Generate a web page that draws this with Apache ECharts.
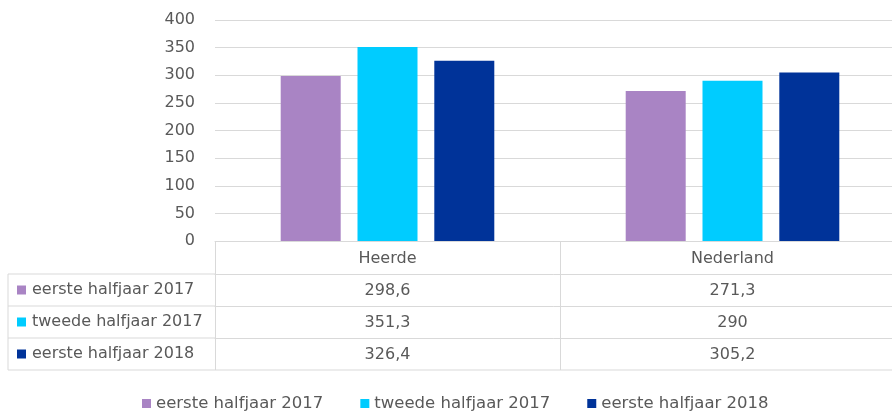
<!DOCTYPE html>
<html>
<head>
<meta charset="utf-8">
<script src="https://cdn.jsdelivr.net/npm/echarts@6/dist/echarts.min.js"></script>
<style>
  html, body { margin: 0; padding: 0; background: #fff; }
  #chart { width: 892px; height: 414px; }
</style>
</head>
<body>
<div id="chart"></div>
<script>
var regions = ['Heerde', 'Nederland'];
var seriesNames = ['eerste halfjaar 2017', 'tweede halfjaar 2017', 'eerste halfjaar 2018'];
var eerste2017 = [298.6, 271.3];
var tweede2017 = [351.3, 290];
var eerste2018 = [326.4, 305.2];
var colors = ['#A984C4', '#00CCFF', '#003399'];

var values = [eerste2017, tweede2017, eerste2018];
var textColor = '#595959';
var lineColor = '#D9D9D9';
var font = 'DejaVu Sans';

// tabel-layout
var gridLeft = 215, gridTop = 20, zeroY = 241;
var rowH = [33, 32, 32, 32];   // kop + 3 rijen
var tableLeft = 8;

function nl(v) { return String(v).replace('.', ','); }

var chart = echarts.init(document.getElementById('chart'));

// x-assen: kop + een as per reeks (rijen van de tabel)
var xAxes = [];
var offset = 0;
for (var r = 0; r < 4; r++) {
    xAxes.push({
        type: 'category',
        gridIndex: 0,
        position: 'bottom',
        offset: offset,
        data: r === 0 ? regions : values[r - 1].map(nl),
        axisLine: { show: true, lineStyle: { color: lineColor, width: 1 } },
        axisTick: { show: true, length: rowH[r], lineStyle: { color: lineColor } },
        axisLabel: { color: textColor, fontSize: 16, fontFamily: font, margin: (rowH[r] - 16) / 2 + 1 }
    });
    offset += rowH[r];
}

// linker kolom van de tabel
var graphics = [];
var y = zeroY + rowH[0];
var tableBottom = zeroY + rowH[0] + rowH[1] + rowH[2] + rowH[3];
for (var i = 0; i < seriesNames.length; i++) {
    var h = rowH[i + 1];
    graphics.push({
        type: 'line',
        shape: { x1: tableLeft, y1: y, x2: gridLeft, y2: y },
        style: { stroke: lineColor, lineWidth: 1 }
    });
    graphics.push({
        type: 'rect',
        shape: { x: 17, y: y + h / 2 - 4.5, width: 9, height: 9 },
        style: { fill: colors[i] }
    });
    graphics.push({
        type: 'text',
        x: 32, y: y + h / 2,
        style: { text: seriesNames[i], fill: textColor, fontSize: 16, fontFamily: font, verticalAlign: 'middle' }
    });
    y += h;
}
graphics.push({
    type: 'line',
    shape: { x1: tableLeft, y1: tableBottom, x2: 892, y2: tableBottom },
    style: { stroke: lineColor, lineWidth: 1 }
});
graphics.push({
    type: 'line',
    shape: { x1: tableLeft, y1: zeroY + rowH[0], x2: tableLeft, y2: tableBottom },
    style: { stroke: lineColor, lineWidth: 1 }
});

var option = {
    animation: false,
    color: colors,
    grid: { left: gridLeft, top: gridTop, width: 690, height: zeroY - gridTop, outerBoundsMode: 'none' },
    legend: {
        data: seriesNames,
        left: 137,
        top: 390,
        itemWidth: 9,
        itemHeight: 9,
        itemGap: 37,
        icon: 'rect',
        textStyle: { color: textColor, fontSize: 16.5, fontFamily: font }
    },
    xAxis: xAxes,
    yAxis: {
        type: 'value',
        min: 0,
        max: 400,
        interval: 50,
        axisLine: { show: false },
        axisTick: { show: false },
        axisLabel: { color: textColor, fontSize: 16, fontFamily: font, margin: 20 },
        splitLine: { lineStyle: { color: lineColor, width: 1 } }
    },
    graphic: graphics,
    series: seriesNames.map(function (name, i) {
        return {
            name: name,
            type: 'bar',
            xAxisIndex: 0,
            barWidth: 60,
            barGap: '28%',
            data: values[i]
        };
    })
};
chart.setOption(option);
</script>
</body>
</html>
